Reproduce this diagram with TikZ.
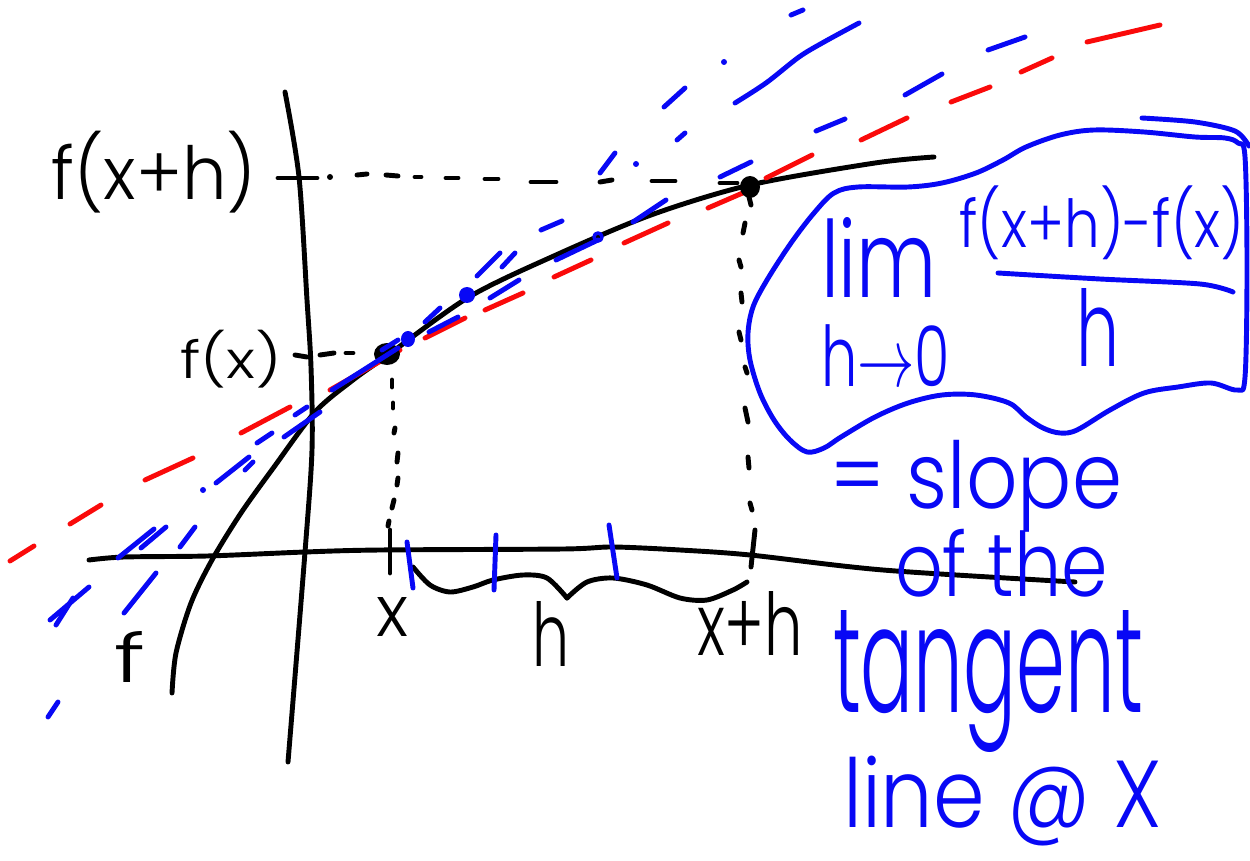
\documentclass[tikz,border=0pt]{standalone}
\usepackage{fontspec}
\setmainfont{Poppins}[UprightFont=* Light]
\usepackage{graphicx}
\newlength\px
\setlength\px{0.02cm}
\newcommand\fitbox[3]{\resizebox*{#1\px}{#2\px}{#3}}
\definecolor{inkblue}{RGB}{8,8,245}
\definecolor{inkred}{RGB}{250,10,10}
\begin{document}
\begin{tikzpicture}[x=0.02cm,y=-0.02cm,line cap=round,line join=round,
  blk/.style={draw=black,line width=2.8pt},
  bl/.style={draw=inkblue,line width=2.8pt},
  rd/.style={draw=inkred,line width=2.8pt},
  lbl/.style={inner sep=0pt,outer sep=0pt,text=black},
  blbl/.style={inner sep=0pt,outer sep=0pt,text=inkblue}]
\useasboundingbox[fill=white] (0,0) rectangle (1250,861);

% axes
\draw[blk] plot[smooth] coordinates {(285,92) (299,177) (307,300) (311,367) (312,450) (305,552) (288,762)};
\draw[blk] plot[smooth] coordinates {(89,560) (124,557) (207,556) (305,552) (380,550) (563,549) (613,547) (680,550) (750,555) (883,570) (1075,582)};

% curve f
\draw[blk] plot[smooth] coordinates {(172,693) (176,653) (191,603) (212,560) (241,513) (274,467) (315,412) (353,380) (388,355) (469,297) (556,255) (651,215) (750,185) (875,163) (934,157)};

% guide dashes
\foreach \a/\b/\c/\d in {278/178/317/178, 357/175/367/174, 386/175/398/176, 415/177/421/177, 446/178/458/178, 485/179/498/179, 531/182/556/182, 600/182/612/180, 652/181/675/181, 720/183/737/183,
  295/355/307/357, 320/355/334/353, 346/353/353/353,
  392/380/392/387, 393/403/393/408, 395/428/394/433, 398/453/397/462, 398/478/397/485, 394/500/392/508, 389/521/388/526, 390/530/390/573,
  749/197/751/205, 745/223/743/233, 739/260/741/267, 741/293/742/302, 739/332/741/340, 745/367/747/373, 745/408/748/422, 748/457/749/468, 750/503/752/510, 755/530/751/567}
  \draw[blk] (\a,\b) -- (\c,\d);
\fill[black] (330,177) circle (3);

% brace
\draw[blk] plot[smooth] coordinates {(413,567) (430,585) (450,592) (473,587) (493,580) (523,575) (547,578) (567,598)};
\draw[blk] plot[smooth] coordinates {(567,598) (587,582) (613,578) (647,585) (680,598) (707,600) (733,590) (747,582)};

% red tangent (dashed by hand)
\foreach \a/\b/\c/\d in {10/561/34/546, 70/524/101/505, 145/480/193/458, 241/433/290/407, 330/390/400/350, 425/338/465/318, 485/310/523/293, 554/277/591/260, 624/243/668/223, 708/208/745/192, 766/178/812/155, 861/140/907/118, 951/102/990/87, 1021/72/1052/58, 1087/42/1160/25}
  \draw[rd] (\a,\b) -- (\c,\d);

% black points
\fill[black] (387,354) ellipse (13 and 11);
\fill[black] (750,187) ellipse (10 and 11);

% blue secants (dashed by hand)
\draw[bl] plot[smooth] coordinates {(735,103) (766,83) (799,57) (824,42) (859,23)};
\foreach \a/\b/\c/\d in {791/15/803/10, 664/107/685/88, 988/50/1025/37, 905/95/942/74, 816/131/845/119, 677/140/685/133, 600/173/615/153, 720/177/751/162, 633/222/666/200, 541/230/562/221, 556/260/598/240, 477/276/500/253, 502/267/515/253, 490/298/519/280, 425/322/440/308, 429/332/458/317, 382/350/398/340, 332/390/398/348, 295/415/307/407, 284/437/320/412, 257/443/272/433, 216/483/249/457, 245/470/253/462, 180/547/195/527, 141/548/166/527, 118/558/154/529, 124/613/156/573, 50/620/89/587, 56/625/73/598, 48/717/58/702}
  \draw[bl] (\a,\b) -- (\c,\d);
\foreach \p in {(724,62),(636,164),(203,490)} \fill[inkblue] \p circle (3);
\draw[bl,line width=2pt] (598,237) circle (4);
\fill[inkblue] (467,295) ellipse (8 and 8);
\fill[inkblue] (408,339) ellipse (7 and 8);

% blue ticks on x-axis
\draw[bl] (407,542) -- (413,588);
\draw[bl] (496,535) -- (494,590);
\draw[bl] (609,525) -- (617,578);

% blob around the limit
\draw[bl] plot[smooth cycle,tension=0.55] coordinates {(1237,390) (1211,383) (1178,387) (1144,393) (1110,410) (1077,430) (1060,433) (1043,428) (1026,417) (1009,403) (976,395) (942,395) (908,403) (875,417) (841,437) (824,448) (807,452) (790,440) (774,420) (760,393) (750,360) (748,333) (753,307) (767,280) (791,243) (814,213) (834,193) (858,187) (908,187) (942,183) (976,173) (1003,160) (1026,147) (1060,135) (1094,130) (1144,132) (1195,137) (1225,138) (1238,143) (1245,157) (1247,267) (1245,377)};
\draw[bl] plot[smooth] coordinates {(1142,118) (1195,122) (1235,131) (1249,146)};

% fraction bar
\draw[bl] plot[smooth] coordinates {(998,273) (1100,279) (1200,284) (1233,292)};

% black labels
\node[lbl] (fxh) at (154,172) {\fitbox{205}{82}{f(x+h)}};
\node[lbl] (fx) at (231,359) {\fitbox{102}{58}{f(x)}};
\node[lbl] (xlab) at (392,617) {\fitbox{32}{39}{x}};
\node[lbl] (hlab) at (551,634) {\fitbox{37}{65}{h}};
\node[lbl] (xhlab) at (750,623) {\fitbox{106}{64}{x+h}};
\node[lbl] (flab) at (130,657) {\fitbox{31}{51}{f}};

% blue labels
\node[blbl,anchor=north west] (lim) at (821,217) {\vbox{%
  \hbox{\fitbox{116}{80}{lim}}\nointerlineskip\kern28\px
  \hbox{\fitbox{129}{62}{h$\rightarrow$0}}}};
\node[blbl] (num) at (1102,223) {\fitbox{285}{74}{f(x+h)-f(x)}};
\node[blbl] (den) at (1098,327) {\fitbox{43}{78}{h}};
\node[blbl,anchor=north west] (slope) at (830,440) {\vbox{%
  \hbox{\fitbox{292}{92}{= slope}}\nointerlineskip\kern-3\px
  \hbox{\kern65\px\fitbox{213}{68}{of the}}\nointerlineskip\kern13\px
  \hbox{\kern3\px\fitbox{310}{142}{tangent}}\nointerlineskip\kern4\px
  \hbox{\kern13\px\fitbox{319}{90}{line @ X}}}};
\end{tikzpicture}
\end{document}
